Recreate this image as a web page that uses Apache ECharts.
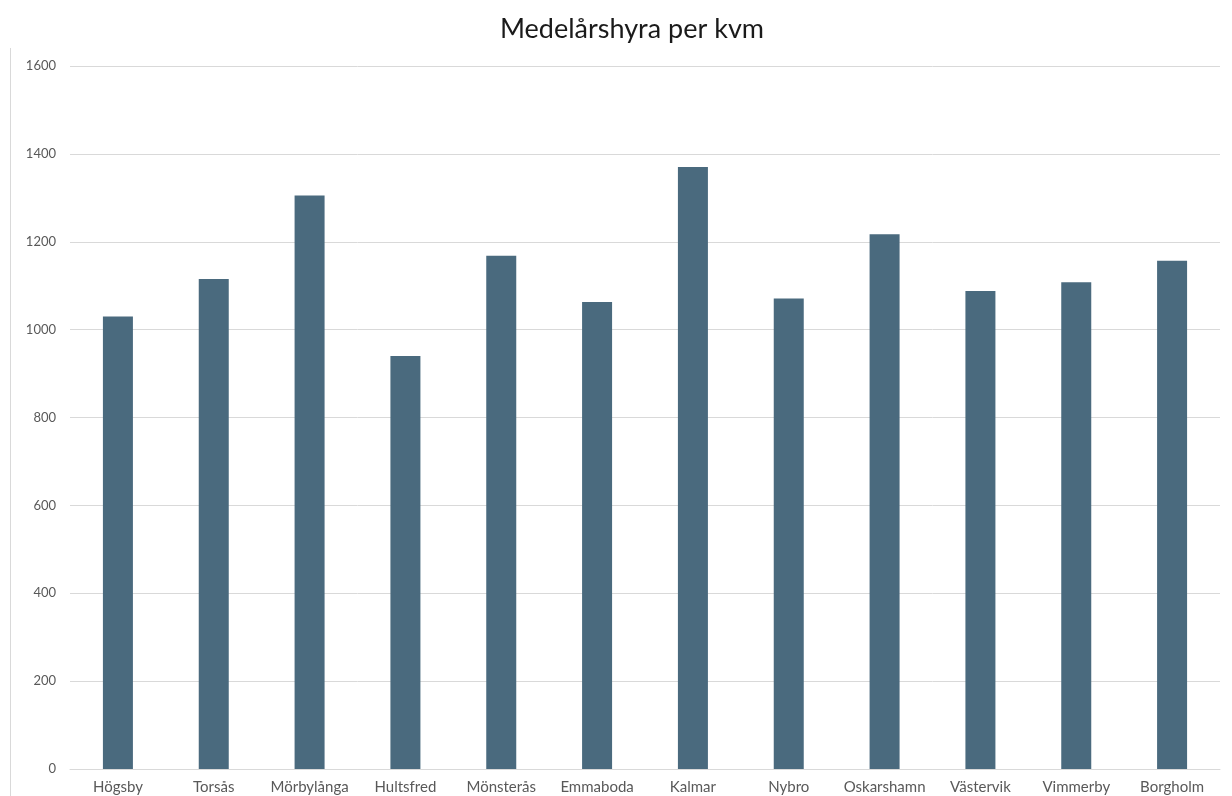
<!DOCTYPE html>
<html>
<head>
<meta charset="utf-8">
<script src="https://cdn.jsdelivr.net/npm/echarts@6/dist/echarts.min.js"></script>
<style>
  html, body { margin: 0; padding: 0; background: #fff; }
  #chart { width: 1232px; height: 796px; }
</style>
</head>
<body>
<div id="chart"></div>
<script>
// kommuner
const categories = ['Högsby', 'Torsås', 'Mörbylånga', 'Hultsfred', 'Mönsterås', 'Emmaboda',
  'Kalmar', 'Nybro', 'Oskarshamn', 'Västervik', 'Vimmerby', 'Borgholm']
// medelårshyra per kvm
const rent = [1030, 1115, 1305, 940, 1168, 1063, 1370, 1071, 1217, 1088, 1108, 1157]
const yTicks = [0, 200, 400, 600, 800, 1000, 1200, 1400, 1600]

const chart = echarts.init(document.getElementById('chart'))
const font = 'Lato, "Open Sans", sans-serif'

const option = {
  animation: false,
  title: {
    text: 'Medelårshyra per kvm',
    left: 627,
    textAlign: 'center',
    top: 11,
    textStyle: { fontFamily: font, fontSize: 27, fontWeight: 'normal', color: '#1a1a1a' }
  },
  graphic: [
    {
      // tunn linje till vänster
      type: 'line',
      shape: { x1: 10.5, y1: 48, x2: 10.5, y2: 796 },
      style: { stroke: '#d9d9d9', lineWidth: 1 }
    }
  ],
  grid: { left: 70, right: 12, top: 66, bottom: 27 },
  xAxis: {
    type: 'category',
    data: categories,
    axisTick: { show: false },
    axisLine: { lineStyle: { color: '#d9d9d9' } },
    axisLabel: { interval: 0, fontFamily: font, fontSize: 15, color: '#595959', margin: 11 }
  },
  yAxis: {
    type: 'value',
    min: yTicks[0],
    max: yTicks[yTicks.length - 1],
    interval: 200,
    axisLine: { show: false },
    axisTick: { show: false },
    splitLine: { lineStyle: { color: '#d9d9d9' } },
    axisLabel: {
      fontFamily: font, fontSize: 13, color: '#595959', margin: 14,
      formatter: v => String(v)
    }
  },
  series: [
    {
      type: 'bar',
      data: rent,
      barWidth: 30,
      itemStyle: { color: '#4a6a7e' }
    }
  ]
}
chart.setOption(option)
</script>
</body>
</html>
